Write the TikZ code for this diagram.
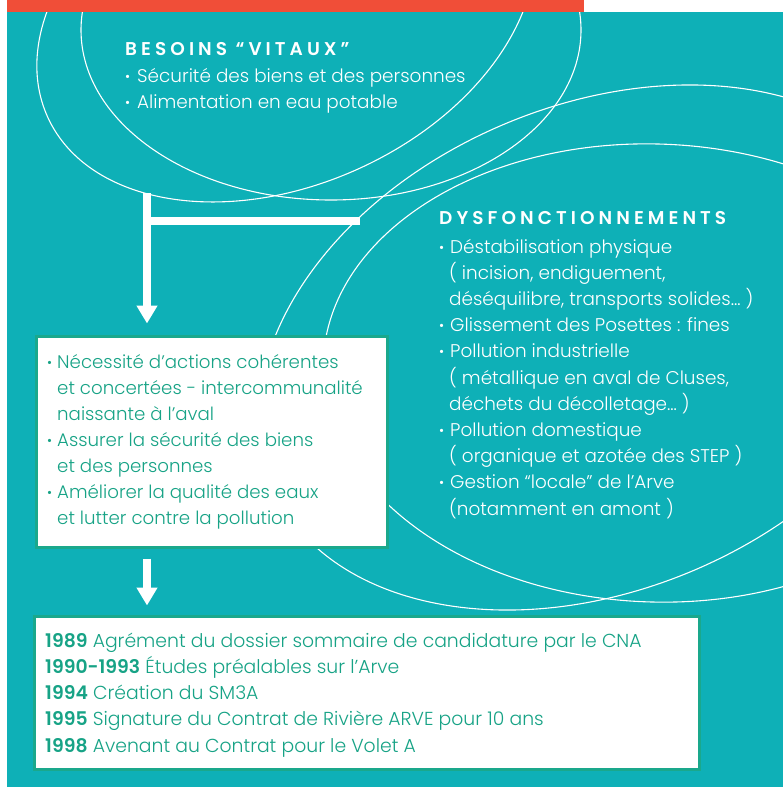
\documentclass[tikz,border=0pt]{standalone}
\usepackage{fontspec}
\setmainfont{Poppins Light}[BoldFont={Poppins SemiBold}]
\usetikzlibrary{arrows.meta}
\definecolor{teal0}{HTML}{0EB0B7}
\definecolor{bord}{HTML}{1AA88C}
\definecolor{txtg}{HTML}{17A386}
\definecolor{redbar}{HTML}{F04E38}
\newcommand{\bul}[1]{\makebox[#1][l]{\raisebox{0.05em}{\scalebox{0.75}{•}}}}
\begin{document}
\begin{tikzpicture}[x=1pt,y=1pt,
  ell/.style={draw=white, line width=1.1pt},
  wtxt/.style={text=white, anchor=base west, inner sep=0pt, font=\fontsize{18.4}{26}\selectfont},
  gtxt/.style={text=txtg, anchor=base west, inner sep=0pt, font=\fontsize{18.2}{26}\selectfont},
  ytxt/.style={text=txtg, anchor=base west, inner sep=0pt, font=\fontsize{18.8}{26}\selectfont},
  head/.style={text=white, anchor=base west, inner sep=0pt, font=\fontsize{18.5}{20}\selectfont\bfseries\addfontfeatures{LetterSpace=22}},
  boxw/.style={draw=bord, line width=3pt, fill=white, anchor=north west, inner sep=0pt},
  warrow/.style={draw=white, line width=8pt, -{Triangle[length=18pt,width=20pt]}},
  wbar/.style={draw=white, line width=8pt}
]
\useasboundingbox (0,0) rectangle (783,-787);
\fill[white] (0,0) rectangle (783,-787);
\fill[teal0] (7,-12) rectangle (783,-787);
\fill[redbar] (7,0) rectangle (584,-12);
\begin{scope}
  \clip (7,-12) rectangle (783,-787);
  \draw[ell, rotate around={24.4:(286,-9)}] (286,-9) ellipse [x radius=261.7pt, y radius=175.5pt];
  \draw[ell] (331,-30) ellipse [x radius=250pt, y radius=170pt];
  \draw[ell, rotate around={22.9:(598.5,-347.5)}] (598.5,-347.5) ellipse [x radius=354.7pt, y radius=242.4pt];
  \draw[ell, rotate around={-1.9:(655,-373)}] (655,-373) ellipse [x radius=332pt, y radius=229pt];
\end{scope}
% boxes
\node[boxw, minimum width=351.5pt, minimum height=211pt] (box1) at (34.5,-334.5) {};
\node[boxw, minimum width=665pt, minimum height=153pt] (box2) at (32.5,-614.5) {};
% arrows
\coordinate (a1) at (147,-193);
\coordinate (a2) at (360,-221);
\draw[wbar] (a2) -- (a1 |- a2);
\draw[warrow] (a1) -- ([yshift=11pt]box1.north -| a1);
\coordinate (a3) at ([yshift=-10pt]box1.south -| a1);
\draw[warrow] (a3) -- ([yshift=9pt]box2.north -| a1);
% top text
\node[head] (besh) at (125,-55) {BESOINS “VITAUX”};
\node[wtxt] (bes1) at (125,-82) {\bul{12pt}Sécurité des biens et des personnes};
\node[wtxt] (bes2) at (125,-108) {\bul{12pt}Alimentation en eau potable};
% right text
\node[head] (dysh) at (439,-224) {DYSFONCTIONNEMENTS};
\node[wtxt] (d1) at (439,-253) {\bul{11pt}Déstabilisation physique};
\node[wtxt] (d2) at (449,-279) {( incision, endiguement,};
\node[wtxt] (d3) at (449,-305) {déséquilibre, transports solides… )};
\node[wtxt] (d4) at (439,-331) {\bul{11pt}Glissement des Posettes : fines};
\node[wtxt] (d5) at (439,-357) {\bul{11pt}Pollution industrielle};
\node[wtxt] (d6) at (449,-384) {( métallique en aval de Cluses,};
\node[wtxt] (d7) at (449,-410) {déchets du décolletage… )};
\node[wtxt] (d8) at (439,-436) {\bul{11pt}Pollution domestique};
\node[wtxt] (d9) at (449,-462) {( organique et azotée des STEP )};
\node[wtxt] (d10) at (439,-488) {\bul{11pt}Gestion “locale” de l’Arve};
\node[wtxt] (d11) at (449,-515) {(notamment en amont )};
% box1 text
\node[gtxt] (b1) at (47,-368) {\bul{10pt}Nécessité d’actions cohérentes};
\node[gtxt] (b2) at (57,-394) {et concertées - intercommunalité};
\node[gtxt] (b3) at (57,-420) {naissante à l’aval};
\node[gtxt] (b4) at (47,-446.5) {\bul{10pt}Assurer la sécurité des biens};
\node[gtxt] (b5) at (57,-472.5) {et des personnes};
\node[gtxt] (b6) at (47,-498.5) {\bul{10pt}Améliorer la qualité des eaux};
\node[gtxt] (b7) at (57,-524.5) {et lutter contre la pollution};
% box2 text
\node[ytxt] (c1) at (45,-647) {\textbf{1989} Agrément du dossier sommaire de candidature par le CNA};
\node[ytxt] (c2) at (45,-673) {\textbf{1990-1993} Études préalables sur l’Arve};
\node[ytxt] (c3) at (45,-699) {\textbf{1994} Création du SM3A};
\node[ytxt] (c4) at (45,-725) {\textbf{1995} Signature du Contrat de Rivière ARVE pour 10 ans};
\node[ytxt] (c5) at (45,-752) {\textbf{1998} Avenant au Contrat pour le Volet A};
\end{tikzpicture}
\end{document}
